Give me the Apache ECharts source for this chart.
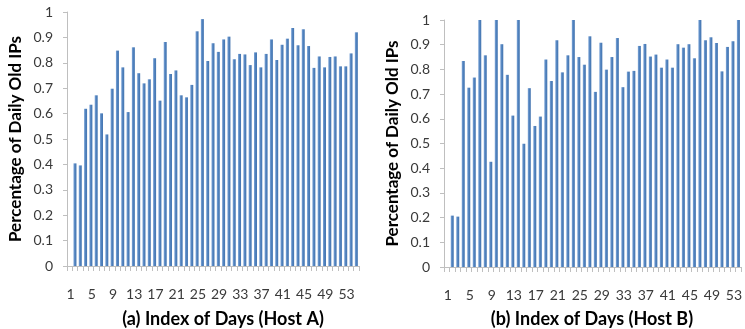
<!DOCTYPE html>
<html>
<head>
<meta charset="utf-8">
<script src="https://cdn.jsdelivr.net/npm/echarts@6/dist/echarts.min.js"></script>
<style>
  html, body { margin: 0; padding: 0; background: #fff; }
  #chart { width: 745px; height: 329px; }
</style>
</head>
<body>
<div id="chart"></div>
<script>
// day index (first slot on each axis is an empty gap, like the original)
const days = ['', 1, 2, 3, 4, 5, 6, 7, 8, 9, 10, 11, 12, 13, 14, 15, 16, 17, 18, 19, 20,
  21, 22, 23, 24, 25, 26, 27, 28, 29, 30, 31, 32, 33, 34, 35, 36, 37, 38, 39, 40,
  41, 42, 43, 44, 45, 46, 47, 48, 49, 50, 51, 52, 53, 54];
const daysB = days.slice(0, 54); // right chart is cut at day 53

const hostA = [null,
  0.404, 0.396, 0.619, 0.635, 0.672, 0.601, 0.518, 0.698, 0.848, 0.782,
  0.606, 0.861, 0.759, 0.719, 0.735, 0.818, 0.651, 0.882, 0.756, 0.770,
  0.672, 0.664, 0.713, 0.924, 0.972, 0.807, 0.877, 0.843, 0.892, 0.903,
  0.814, 0.835, 0.833, 0.791, 0.841, 0.782, 0.835, 0.892, 0.811, 0.871,
  0.895, 0.937, 0.869, 0.932, 0.866, 0.780, 0.825, 0.782, 0.823, 0.825,
  0.786, 0.786, 0.837, 0.920];

const hostB = [null,
  0.208, 0.204, 0.834, 0.726, 0.767, 1.0, 0.857, 0.426, 1.0, 0.902,
  0.778, 0.613, 1.0, 0.499, 0.724, 0.571, 0.609, 0.840, 0.753, 0.918,
  0.788, 0.857, 1.0, 0.850, 0.819, 0.934, 0.709, 0.908, 0.799, 0.850,
  0.927, 0.728, 0.791, 0.794, 0.895, 0.903, 0.852, 0.860, 0.807, 0.840,
  0.807, 0.902, 0.888, 0.902, 0.845, 1.0, 0.918, 0.930, 0.907, 0.792,
  0.891, 0.914, 1.0];

const yTitle = 'Percentage of Daily Old IPs';
const xTitles = ['(a) Index of Days (Host A)', '(b) Index of Days (Host B)'];

const FONT = 'Lato, "Open Sans", sans-serif';
const axisGray = '#bfbfbf';

const chart = echarts.init(document.getElementById('chart'), null, { renderer: 'canvas' });

function xAxisFor(idx, cats) {
  return {
    type: 'category',
    gridIndex: idx,
    data: cats,
    boundaryGap: true,
    axisLine: { lineStyle: { color: axisGray, width: 1 } },
    axisTick: { show: true, interval: 0, length: 5, lineStyle: { color: axisGray } },
    axisLabel: {
      interval: (i) => i % 4 === 1,
      margin: 21,
      padding: [0, 9, 0, 0],
      color: '#3a3a3a',
      fontFamily: FONT,
      fontSize: 14,
    },
  };
}

function yAxisFor(idx, gap) {
  return {
    type: 'value',
    gridIndex: idx,
    min: 0,
    max: 1,
    interval: 0.1,
    name: yTitle,
    nameLocation: 'middle',
    nameGap: gap,
    nameTextStyle: { fontFamily: FONT, fontWeight: 'bold', fontSize: 17, color: '#000' },
    axisLine: { show: true, lineStyle: { color: axisGray } },
    axisTick: { show: true, length: 4, lineStyle: { color: axisGray } },
    splitLine: { show: false },
    axisLabel: {
      margin: 14,
      color: '#3a3a3a',
      fontFamily: FONT,
      fontSize: 14,
      formatter: (v) => String(+v.toFixed(1)),
    },
  };
}

const barColor = new echarts.graphic.LinearGradient(0, 0, 1, 0, [
  { offset: 0, color: '#7fa6d8' },
  { offset: 0.5, color: '#4f81bd' },
  { offset: 1, color: '#4676b0' },
]);

chart.setOption({
  animation: false,
  grid: [
    { left: 67, top: 12, width: 292, height: 254 },
    { left: 444, top: 20, width: 300, height: 247 },
  ],
  xAxis: [xAxisFor(0, days), xAxisFor(1, daysB)],
  yAxis: [yAxisFor(0, 43), yAxisFor(1, 43)],
  series: [
    { type: 'bar', xAxisIndex: 0, yAxisIndex: 0, data: hostA, barWidth: 3, itemStyle: { color: barColor } },
    { type: 'bar', xAxisIndex: 1, yAxisIndex: 1, data: hostB, barWidth: 3, itemStyle: { color: barColor } },
  ],
  graphic: [
    {
      type: 'text', x: 223, y: 319,
      style: { text: xTitles[0], textAlign: 'center', textVerticalAlign: 'middle',
        font: 'bold 18px ' + FONT, fill: '#000' },
    },
    {
      type: 'text', x: 592, y: 319,
      style: { text: xTitles[1], textAlign: 'center', textVerticalAlign: 'middle',
        font: 'bold 18px ' + FONT, fill: '#000' },
    },
  ],
});
</script>
</body>
</html>
